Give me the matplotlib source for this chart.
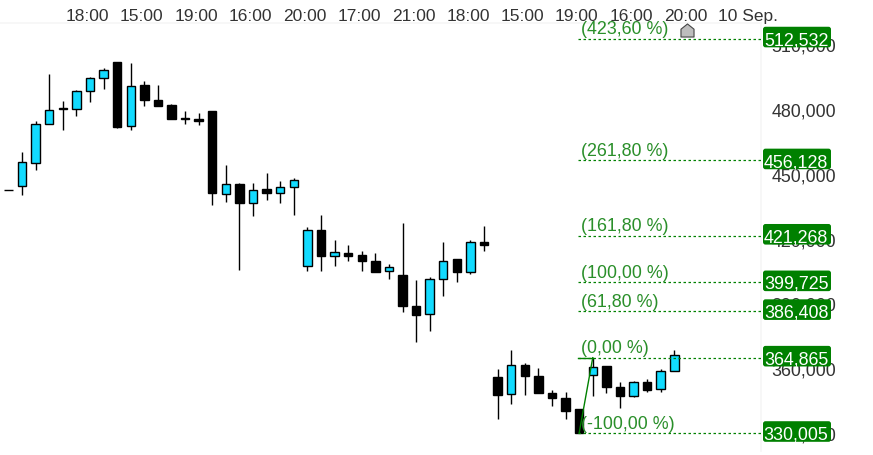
import matplotlib
matplotlib.use("Agg")
import matplotlib.pyplot as plt
from matplotlib.path import Path
from matplotlib.patches import FancyBboxPatch
from matplotlib.transforms import IdentityTransform

plt.rcParams["font.family"] = ["Liberation Sans", "DejaVu Sans"]

# OHLC, one candle per entry
opens = [442.5, 444.2, 454.8, 472.9, 480.6, 479.8, 488.2, 494.2, 501.9, 472.0,
         491.2, 484.3, 482.0, 476.0, 475.5, 478.8, 440.5, 445.4, 436.3, 442.7,
         441.0, 443.7, 407.2, 424.0, 411.7, 413.4, 412.6, 409.8, 404.9, 402.9,
         389.0, 385.0, 401.2, 410.3, 404.4, 418.6, 355.7, 348.0, 361.7, 356.6,
         348.7, 346.4, 340.9, 356.9, 360.8, 351.5, 347.0, 353.8, 350.3, 358.6]
closes = [442.5, 455.5, 473.0, 479.5, 479.8, 488.3, 494.3, 498.0, 471.8, 490.6,
          484.0, 481.5, 475.5, 475.1, 474.6, 441.0, 445.3, 436.3, 442.5, 441.0,
          443.9, 447.1, 424.0, 411.7, 413.8, 412.1, 409.4, 404.7, 406.9, 389.0,
          384.8, 401.3, 409.7, 404.3, 418.5, 417.2, 347.8, 361.5, 356.2, 348.3,
          346.0, 340.4, 330.0, 360.6, 351.1, 346.9, 353.7, 350.1, 358.8, 366.2]
highs = [442.5, 460.1, 474.4, 496.3, 483.7, 488.9, 494.9, 499.0, 501.9, 501.4,
         493.1, 491.2, 482.3, 478.8, 478.3, 478.8, 454.2, 445.7, 445.9, 450.5,
         446.4, 448.2, 425.5, 431.1, 419.1, 416.8, 414.4, 413.5, 408.4, 427.4,
         400.6, 402.0, 418.6, 410.3, 419.1, 426.0, 359.4, 368.2, 362.2, 359.9,
         349.7, 349.2, 340.9, 364.8, 361.1, 353.4, 354.3, 355.2, 359.4, 368.6]
lows = [442.5, 440.0, 451.9, 472.9, 470.1, 476.6, 483.1, 489.4, 471.3, 470.1,
        481.1, 481.1, 475.5, 473.2, 472.3, 435.7, 437.1, 405.3, 430.6, 438.0,
        436.6, 431.1, 404.9, 405.2, 407.5, 409.4, 405.2, 404.7, 401.5, 385.8,
        372.3, 377.4, 393.6, 400.1, 403.8, 414.0, 336.3, 343.2, 347.4, 348.3,
        342.3, 336.7, 330.0, 346.9, 348.7, 341.8, 346.6, 349.2, 349.2, 358.5]

# fibonacci levels
fib_prices = [512.532, 456.128, 421.268, 399.725, 386.408, 364.865, 330.005]
fib_pcts = ["(423,60 %)", "(261,80 %)", "(161,80 %)", "(100,00 %)",
            "(61,80 %)", "(0,00 %)", "(-100,00 %)"]
fib_badges = ["512,532", "456,128", "421,268", "399,725", "386,408", "364,865", "330,005"]
fib_start = 42
fib_end = 43

y_ticks = [330, 360, 390, 420, 450, 480, 510]
y_tick_labels = ["330,000", "360,000", "390,000", "420,000", "450,000", "480,000", "510,000"]
x_ticks = [5.82, 9.82, 13.82, 17.82, 21.82, 25.82, 29.82, 33.82, 37.82, 41.82, 45.82, 49.82, 54.42]
x_tick_labels = ["18:00", "15:00", "19:00", "16:00", "20:00", "17:00", "21:00", "18:00",
                 "15:00", "19:00", "16:00", "20:00", "10 Sep."]

CYAN = "#12DBFF"
GREEN = "#008000"
TEXT_GREEN = "#2A8F2A"

fig = plt.figure(figsize=(8.73, 4.56), dpi=100)
ax = fig.add_axes([0, 1 - 452 / 456, 761 / 873, (452 - 24) / 456])
ax.set_xlim(-0.62, 55.38)
ax.set_ylim(321.68, 519.73)

# candles
xs = range(len(opens))
colors = [CYAN if c > o else "black" for o, c in zip(opens, closes)]
ax.vlines(xs, lows, highs, color="black", lw=1.0, zorder=2)
ax.bar(xs, [abs(c - o) for o, c in zip(opens, closes)],
       bottom=[min(o, c) for o, c in zip(opens, closes)],
       width=0.62, color=colors, edgecolor="black", lw=1.0, zorder=3)

# fib lines, labels and price badges
for price, pct, badge in zip(fib_prices, fib_pcts, fib_badges):
    ax.plot([fib_start - 0.05, 56], [price, price], color=GREEN, lw=0.9,
            ls=(0, (2, 2)), zorder=4)
    ax.annotate(pct, xy=(fib_start + 0.15, price), xytext=(0, 1.0), textcoords="offset points",
                color=TEXT_GREEN, fontsize=12.9, ha="left", va="bottom", zorder=5)
    # badge box is placed in pixels, so it keeps its size
    py = ax.transData.transform((0, price))[1]
    box = FancyBboxPatch((765, py - 6.8), 64, 16.6, boxstyle="round,pad=2,rounding_size=2.5",
                         fc=GREEN, ec="none", transform=IdentityTransform(), clip_on=False,
                         zorder=9)
    ax.add_patch(box)
    ax.annotate(badge, xy=(1, price), xycoords=("axes fraction", "data"), xytext=(25.3, -4.0),
                textcoords="offset points", color="white", fontsize=12.9, ha="center",
                va="baseline", annotation_clip=False, zorder=10)

# fib anchor
ax.plot([fib_start, fib_end], [fib_prices[-1], fib_prices[-2]], color=GREEN, lw=1, zorder=5)
ax.plot([fib_start - 0.05, fib_end], [fib_prices[-2], fib_prices[-2]], color=GREEN, lw=1, zorder=5)

# little house marker on the top edge
house = Path([(-1, -1), (-1, 0.2), (0, 1), (1, 0.2), (1, -1), (-1, -1)], closed=True)
ax.plot([49.95], [516.7], marker=house, ms=9.4, mfc="#BDBDBD", mec="#444444", mew=0.8,
        zorder=6, clip_on=False)

ax.xaxis.tick_top()
ax.yaxis.tick_right()
ax.set_xticks(x_ticks)
ax.set_xticklabels(x_tick_labels)
ax.set_yticks(y_ticks)
ax.set_yticklabels(y_tick_labels)
ax.tick_params(axis="x", length=0, pad=0, labelsize=12.5, labelcolor="#333333")
ax.tick_params(axis="y", length=0, pad=7.5, labelsize=12.9, labelcolor="#333333")

for side in ["left", "bottom"]:
    ax.spines[side].set_visible(False)
for side in ["top", "right"]:
    ax.spines[side].set_color("#F6F6F6")
    ax.spines[side].set_linewidth(1.2)

fig.savefig("out.png", dpi=100)
